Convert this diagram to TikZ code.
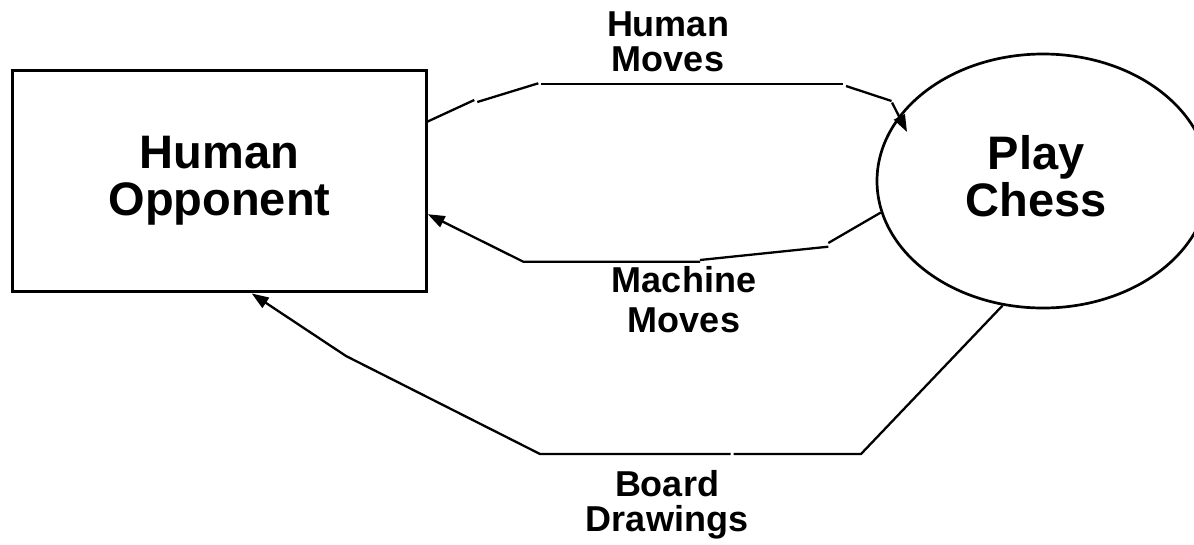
\documentclass[tikz,border=0pt]{standalone}
\usepackage{fontspec}
\setmainfont{Liberation Sans}
\usetikzlibrary{arrows.meta,shapes.geometric}
\begin{document}
\begin{tikzpicture}[x=1pt,y=-1pt,
  conn/.style={line width=2.3pt, line cap=butt, line join=miter},
  arr/.style={conn, -{Triangle[length=17pt,width=12pt]}},
  big/.style={font=\bfseries\fontsize{47}{47}\selectfont, align=center},
  lab/.style={font=\bfseries\fontsize{36}{35}\selectfont, align=center, inner sep=0pt},
  boxshape/.style={draw, line width=3pt, inner sep=0pt, minimum width=413.5pt, minimum height=221.5pt},
  procshape/.style={draw, ellipse, line width=2.7pt, inner sep=0pt, minimum width=332pt, minimum height=254pt}
]
\useasboundingbox[fill=white] (0,0) rectangle (1194,544);

% nodes
\node[boxshape, big] (opp) at (219.5,181.2) {Human\\Opponent};
\node[procshape] (chess) at (1043,181) {};
\node[big, inner sep=0pt] (pc) at (1036,176.4) {Play\\Chess};

% labels
\node[lab] (hml) at (668,41.8) {Human\\Moves};
\node[lab, font=\bfseries\fontsize{36}{40}\selectfont] (mml) at (684,300) {Machine\\Moves};
\node[lab] (bdl) at (667,505.2) {Board\\Drawings};

% waypoints: Human Moves
\coordinate (hm1) at (474.3,100);
\coordinate (hm2) at (477.3,102);
\coordinate (hm3) at (538.3,83.3);
\coordinate (hm4) at (540.7,84.3);
\coordinate (hm5) at (842.7,84.3);
\coordinate (hm6) at (846,86);
\coordinate (hm7) at (891.5,101);
\coordinate (hm8) at (892,102.5);
\coordinate (hmT) at (907,132);

% waypoints: Machine Moves
\coordinate (mm1) at (828.3,243);
\coordinate (mm2) at (828.3,246.7);
\coordinate (mm3) at (700,260);
\coordinate (mm4) at (700,261.7);
\coordinate (mm5) at (523.3,261.7);

% waypoints: Board Drawings
\coordinate (bd1) at (861,454);
\coordinate (bd2) at (730.5,454);
\coordinate (bd3) at (733.5,454);
\coordinate (bd4) at (540,454);
\coordinate (bd5) at (346,356);

% Human Moves connector
\draw[conn] (opp.16.9) -- (hm1);
\draw[conn] (hm2) -- (hm3);
\draw[conn] (hm4) -- (hm5);
\draw[conn] (hm6) -- (hm7);
\draw[arr] (hm8) -- (hmT);

% Machine Moves connector
\draw[conn] (chess.191.8) -- (mm1);
\draw[conn] (mm2) -- (mm3);
\draw[arr] (mm4) -- (mm5) -- (opp.351.3);

% Board Drawings connector
\draw[conn] (chess.252.5) -- (bd1) -- (bd3);
\draw[arr] (bd2) -- (bd4) -- (bd5) -- (opp.286.2);
\end{tikzpicture}
\end{document}
